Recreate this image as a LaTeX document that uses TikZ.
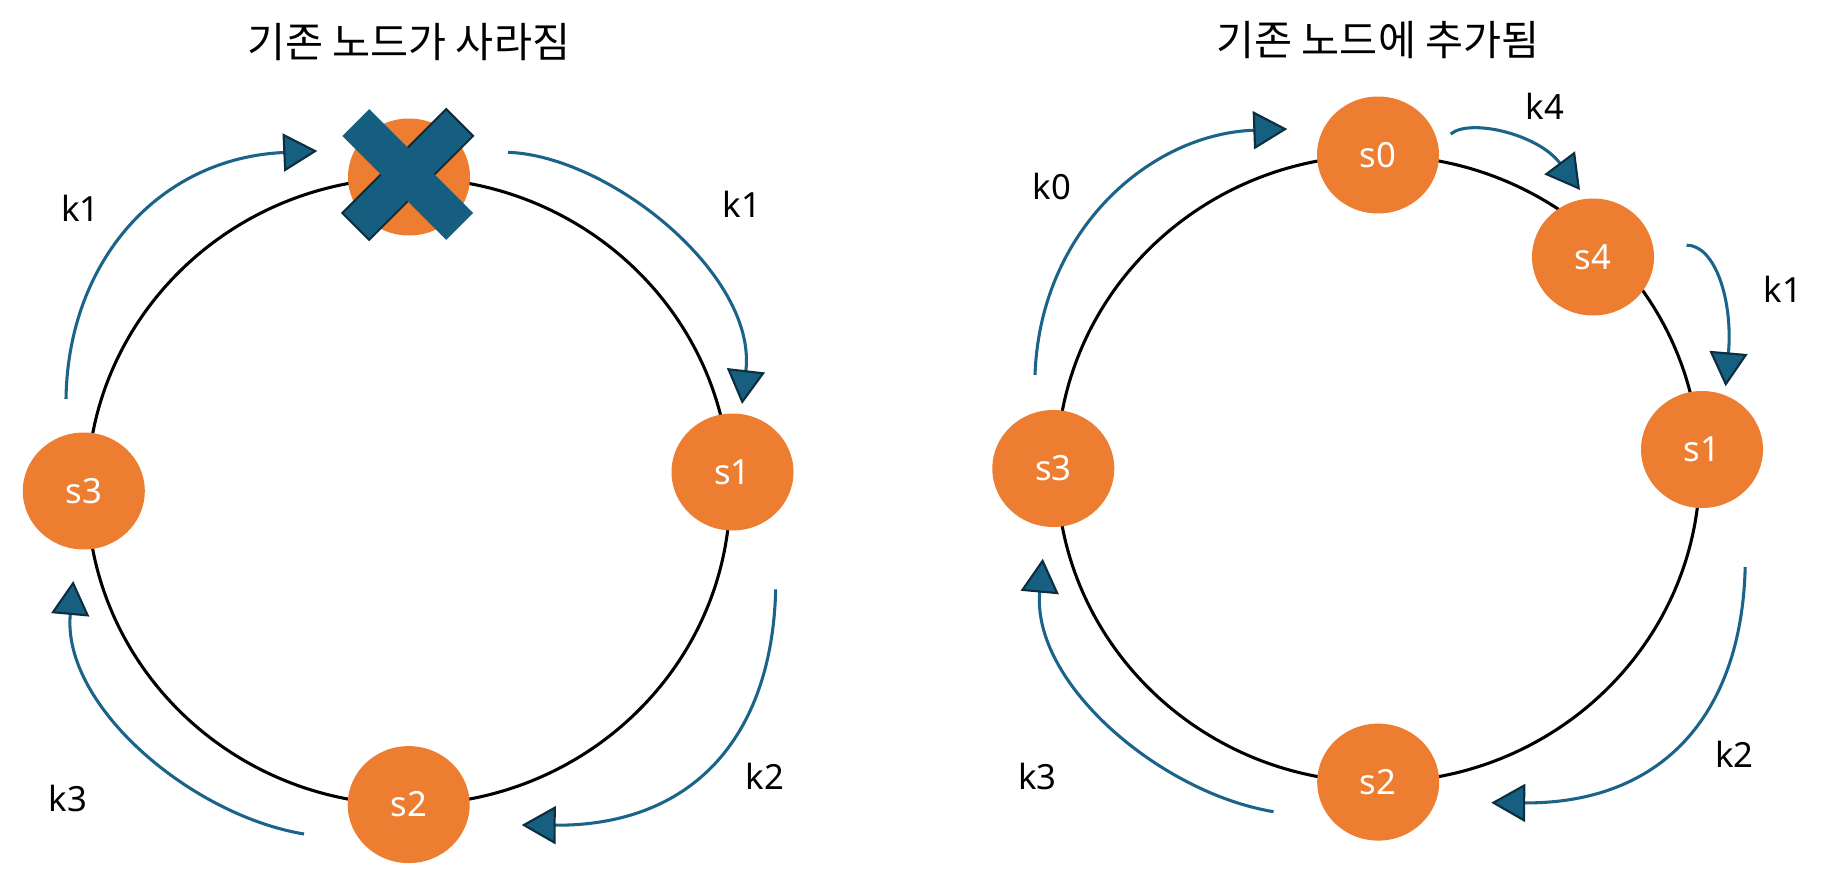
\documentclass[tikz,border=0pt]{standalone}
\usepackage{fontspec}
\setmainfont{Noto Sans}
\newfontfamily\krfont{Noto Sans CJK KR}
\usetikzlibrary{arrows.meta,shapes.geometric}
\definecolor{srvorange}{HTML}{ED7D31}
\definecolor{arrowblue}{HTML}{1B6388}
\definecolor{tipfill}{HTML}{175F80}
\definecolor{tipline}{HTML}{0C2E40}
\definecolor{crossfill}{HTML}{155E80}
\begin{document}
\begin{tikzpicture}[x=0.75pt,y=-0.75pt,
  server/.style={ellipse, fill=srvorange, minimum width=91.5pt, minimum height=87.75pt, inner sep=0pt, text=white, font=\fontsize{26}{30}\selectfont},
  ringline/.style={draw=black, line width=2.3pt},
  keyarrow/.style={draw=arrowblue, line width=2.3pt, -{Triangle[length=25.5pt,width=28.5pt,fill=tipfill,color=tipline,line width=1.6pt]}},
  keylabel/.style={font=\fontsize{26}{30}\selectfont, text=black},
  titletext/.style={font=\krfont\fontsize{31}{36}\selectfont}
]
\useasboundingbox (0,0) rectangle (1825,878);

% titles
\node[titletext] (t1) at (408.7,42) {기존 노드가 사라짐};
\node[titletext] (t2) at (1378,40.5) {기존 노드에 추가됨};

% rings
\coordinate (lc) at (408.7,491.3);
\coordinate (rc) at (1378.3,468.8);
\draw[ringline] (lc) ellipse [x radius=241.1pt, y radius=235pt];
\draw[ringline] (rc) ellipse [x radius=241.1pt, y radius=235pt];

% left servers
\node[server] (xn) at (409,177) {};
\node[server] (ls1) at (732.5,472) {s1};
\node[server] (ls2) at (408.7,804.6) {s2};
\node[server] (ls3) at (83.8,491) {s3};

% cross
\path[fill=crossfill, draw=tipline, line width=1.5pt] (473.1,135.96) -- (446.24,109.1) -- (342.3,213.04) -- (369.16,239.9) -- cycle;
\path[fill=crossfill] (473.1,213.04) -- (446.24,239.9) -- (342.3,135.96) -- (369.16,109.1) -- cycle;

% right servers
\node[server] (rs0) at (1378,155) {s0};
\node[server] (rs4) at (1593,257) {s4};
\node[server] (rs1) at (1702,449.5) {s1};
\node[server] (rs2) at (1378.2,782.1) {s2};
\node[server] (rs3) at (1053.3,468.5) {s3};

% left arrows
\coordinate (a1s) at (66,399);      \coordinate (a1e) at (317.3,151);
\coordinate (a2s) at (508,152.3);   \coordinate (a2e) at (742,404);
\coordinate (a3s) at (775.7,589.3); \coordinate (a3e) at (521.7,825);
\coordinate (a4s) at (304,834);     \coordinate (a4e) at (73.3,581);
\draw[keyarrow] (a1s) .. controls (68,260) and (160,158) .. (a1e);
\draw[keyarrow] (a2s) .. controls (610,156) and (757,275) .. (a2e);
\draw[keyarrow] (a3s) .. controls (772,740) and (690,826) .. (a3e);
\draw[keyarrow] (a4s) .. controls (190,815) and (62,705) .. (a4e);

% right arrows
\coordinate (b1s) at (1035,375);     \coordinate (b1e) at (1287.3,129);
\coordinate (b2s) at (1450.7,134);   \coordinate (b2e) at (1580,190);
\coordinate (b3s) at (1686.6,245.2); \coordinate (b3e) at (1725.6,386.3);
\coordinate (b4s) at (1745.2,567);   \coordinate (b4e) at (1491.2,802.7);
\coordinate (b5s) at (1273.5,811.7); \coordinate (b5e) at (1042.8,558.7);
\draw[keyarrow] (b1s) .. controls (1040,230) and (1150,134) .. (b1e);
\draw[keyarrow] (b2s) .. controls (1470,118) and (1538,134) .. (b2e);
\draw[keyarrow] (b3s) .. controls (1715,245) and (1733,300) .. (b3e);
\draw[keyarrow] (b4s) .. controls (1741.5,717.7) and (1659.5,803.7) .. (b4e);
\draw[keyarrow] (b5s) .. controls (1159.5,792.7) and (1031.5,682.7) .. (b5e);

% labels
\node[keylabel] (lk1a) at (80.4,208.3) {k1};
\node[keylabel] (lk1b) at (741.7,204.4) {k1};
\node[keylabel] (lk2) at (765,776) {k2};
\node[keylabel] (lk3) at (67.7,798.3) {k3};
\node[keylabel] (rk4) at (1545,106.7) {k4};
\node[keylabel] (rk0) at (1051.7,186) {k0};
\node[keylabel] (rk1) at (1782.7,289.5) {k1};
\node[keylabel] (rk2) at (1734.5,754) {k2};
\node[keylabel] (rk3) at (1037.2,776) {k3};
\end{tikzpicture}
\end{document}
